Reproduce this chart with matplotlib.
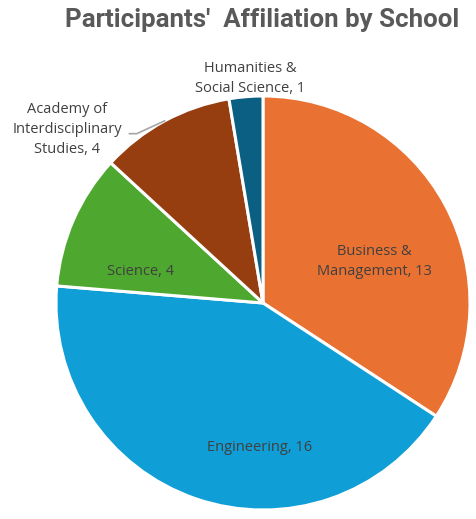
import matplotlib
matplotlib.use("Agg")
import matplotlib.pyplot as plt
import numpy as np

categories = ["Business &\nManagement", "Engineering", "Science",
              "Academy of\nInterdisciplinary\nStudies", "Humanities &\nSocial Science"]
values = [13, 16, 4, 4, 1]
colors = ["#E97132", "#0F9ED5", "#4EA72E", "#963E10", "#0B5F82"]

fig = plt.figure(figsize=(4.77, 5.19), dpi=100)
ax = fig.add_axes([56/477, 9/519, 414/477, 414/519])
wedges, _ = ax.pie(values, colors=colors, startangle=90, counterclock=False,
                   radius=1.0, wedgeprops=dict(edgecolor="white", linewidth=2.2))
ax.set_xlim(-1, 1)
ax.set_ylim(-1, 1)
ax.set_aspect("equal")
ax.axis("off")

label_pos = [(0.54, 0.20), (-0.015, -0.70), (-0.59, 0.15), (-0.945, 0.84), (-0.063, 1.085)]
txtcolor = "#404040"
for cat, v, (x, y) in zip(categories, values, label_pos):
    lab = f"{cat}, {v}"
    ax.text(x, y, lab, ha="center", va="center", fontsize=10.5, color=txtcolor,
            family="Open Sans", linespacing=1.45, clip_on=False)

# leader line for Academy label
tot = sum(values)
mid = (sum(values[:3]) + values[3] / 2) / tot * 2 * np.pi
ex = np.sin(mid) * 1.0
ey = np.cos(mid) * 1.0
ax.plot([-0.645, -0.61, ex], [0.818, 0.818, ey], color="#A6A6A6",
        lw=1.2, clip_on=False)

fig.text(262/477, 1 - 20/519, "Participants'  Affiliation by School", ha="center", va="center",
         fontsize=18.6, fontweight="bold", color="#595959", family="Roboto")

fig.savefig("out.png", dpi=100)
